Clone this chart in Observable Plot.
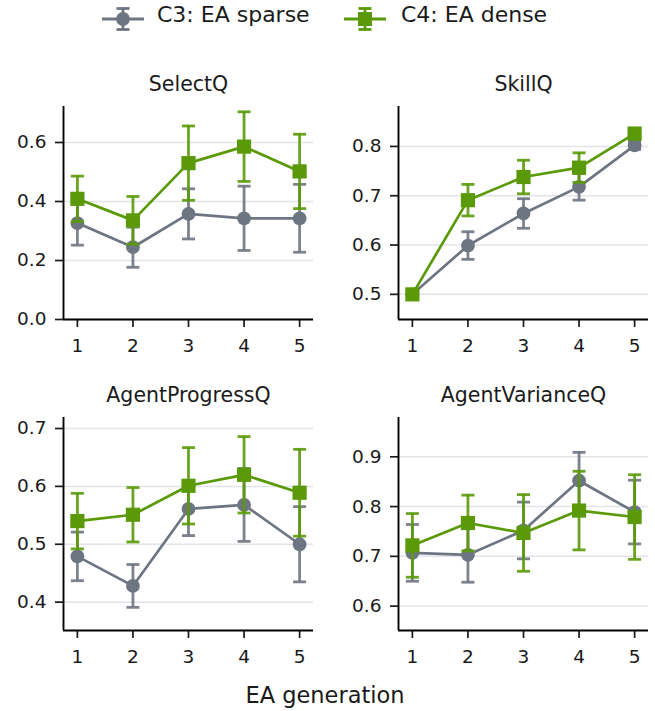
<!DOCTYPE html>
<html>
<head>
<meta charset="utf-8">
<script src="https://cdn.jsdelivr.net/npm/d3@7"></script>
<script src="https://cdn.jsdelivr.net/npm/@observablehq/plot@0.6"></script>
<style>
  html, body { margin: 0; padding: 0; background: #fff; }
  #wrap { position: relative; width: 655px; height: 711px; overflow: hidden; font-family: "DejaVu Sans", sans-serif; color: #1a1a1a; }
  .panel { position: absolute; }
  .legtext { position: absolute; font-size: 22px; top: 2px; white-space: nowrap; }
  .legsym { position: absolute; top: 6px; }
  #xlabel { position: absolute; left: 0; width: 650px; text-align: center; top: 682px; font-size: 22.5px; }
</style>
</head>
<body>
<div id="wrap">
  <svg class="legsym" style="left:100px" width="46" height="26">
    <line x1="2" x2="44" y1="13" y2="13" stroke="#6e7582" stroke-width="2.8"/>
    <line x1="23" x2="23" y1="2.5" y2="23.5" stroke="#6e7582" stroke-width="2.8"/>
    <line x1="16.5" x2="29.5" y1="2.5" y2="2.5" stroke="#6e7582" stroke-width="2.8"/>
    <line x1="16.5" x2="29.5" y1="23.5" y2="23.5" stroke="#6e7582" stroke-width="2.8"/>
    <circle cx="23" cy="13" r="6.9" fill="#6e7582"/>
  </svg>
  <div class="legtext" style="left:157px">C3: EA sparse</div>
  <svg class="legsym" style="left:342px" width="46" height="26">
    <line x1="2" x2="44" y1="13" y2="13" stroke="#5a9a08" stroke-width="2.8"/>
    <line x1="23" x2="23" y1="2.5" y2="23.5" stroke="#5a9a08" stroke-width="2.8"/>
    <line x1="16.5" x2="29.5" y1="2.5" y2="2.5" stroke="#5a9a08" stroke-width="2.8"/>
    <line x1="16.5" x2="29.5" y1="23.5" y2="23.5" stroke="#5a9a08" stroke-width="2.8"/>
    <rect x="16" y="6" width="14" height="14" fill="#5a9a08"/>
  </svg>
  <div class="legtext" style="left:401px">C4: EA dense</div>
  <div id="xlabel">EA generation</div>
</div>
<script>
// ---- data ----
const generations = [1, 2, 3, 4, 5];
const seriesNames = ["C3: EA sparse", "C4: EA dense"];
const panelTitles = ["SelectQ", "SkillQ", "AgentProgressQ", "AgentVarianceQ"];

const selectSparseMean = [0.327, 0.245, 0.358, 0.343, 0.343];
const selectSparseErr  = [0.075, 0.068, 0.085, 0.109, 0.115];
const selectDenseMean  = [0.409, 0.336, 0.530, 0.586, 0.502];
const selectDenseErr   = [0.077, 0.081, 0.126, 0.118, 0.126];

const skillSparseMean = [0.500, 0.599, 0.664, 0.718, 0.802];
const skillSparseErr  = [0.000, 0.028, 0.030, 0.027, 0.008];
const skillDenseMean  = [0.500, 0.691, 0.738, 0.757, 0.826];
const skillDenseErr   = [0.000, 0.032, 0.034, 0.030, 0.011];

const progressSparseMean = [0.479, 0.428, 0.561, 0.568, 0.500];
const progressSparseErr  = [0.042, 0.037, 0.046, 0.063, 0.065];
const progressDenseMean  = [0.540, 0.551, 0.601, 0.620, 0.589];
const progressDenseErr   = [0.048, 0.047, 0.066, 0.066, 0.075];

const varianceSparseMean = [0.707, 0.703, 0.752, 0.852, 0.789];
const varianceSparseErr  = [0.057, 0.055, 0.057, 0.057, 0.064];
const varianceDenseMean  = [0.722, 0.767, 0.747, 0.792, 0.779];
const varianceDenseErr   = [0.064, 0.056, 0.077, 0.079, 0.085];

const selectTicks   = [0, 0.2, 0.4, 0.6];
const skillTicks    = [0.5, 0.6, 0.7, 0.8];
const progressTicks = [0.4, 0.5, 0.6, 0.7];
const varianceTicks = [0.6, 0.7, 0.8, 0.9];

const selectDomain   = [0, 0.722];
const skillDomain    = [0.449, 0.881];
const progressDomain = [0.351, 0.719];
const varianceDomain = [0.551, 0.979];

// ---- styling ----
const colors = {"C3: EA sparse": "#6e7582", "C4: EA dense": "#5a9a08"};
const xDomain = [0.75, 5.25];
const capSymbol = { draw(ctx) { ctx.moveTo(-6.5, 0); ctx.lineTo(6.5, 0); } };

function rows(name, means, errs) {
  return generations.map((g, i) => ({g, m: means[i], lo: means[i] - errs[i], hi: means[i] + errs[i], name}));
}

function seriesMarks(data, symbol, r) {
  const c = colors[data[0].name];
  const eb = {stroke: c, strokeWidth: 2.8, strokeOpacity: 0.9};
  return [
    Plot.ruleX(data, {x: "g", y1: "lo", y2: "hi", ...eb}),
    Plot.dot(data, {x: "g", y: "lo", symbol: capSymbol, fill: "none", r: 5, ...eb}),
    Plot.dot(data, {x: "g", y: "hi", symbol: capSymbol, fill: "none", r: 5, ...eb}),
    Plot.line(data, {x: "g", y: "m", stroke: c, strokeWidth: 2.7}),
    Plot.dot(data, {x: "g", y: "m", symbol, r, fill: c, stroke: "none"})
  ];
}

function panel(title, sm, se, dm, de, yDomain, yTicks, width, marginRight) {
  const sparse = rows(seriesNames[0], sm, se);
  const dense = rows(seriesNames[1], dm, de);
  return Plot.plot({
    width, height: 300,
    marginLeft: 63, marginRight, marginTop: 46, marginBottom: 41,
    x: {domain: xDomain},
    y: {domain: yDomain},
    style: {fontFamily: "DejaVu Sans, sans-serif", fontSize: "18.5px", color: "#1a1a1a", background: "transparent", overflow: "visible"},
    marks: [
      Plot.gridY(yTicks, {stroke: "#e3e3ea", strokeOpacity: 1, strokeWidth: 1.5}),
      Plot.axisY({ticks: yTicks, tickFormat: d3.format(".1f"), tickSize: 8, tickPadding: 9, strokeWidth: 1.7, label: null}),
      Plot.axisX({ticks: generations, tickFormat: d => String(d), tickSize: 8, tickPadding: 11, strokeWidth: 1.7, label: null}),
      Plot.ruleX([xDomain[0]], {stroke: "#000", strokeWidth: 1.9}),
      Plot.ruleY([yDomain[0]], {stroke: "#000", strokeWidth: 1.9}),
      ...seriesMarks(sparse, "circle", 6.9),
      ...seriesMarks(dense, "square", 8),
      Plot.text([title], {frameAnchor: "top", lineAnchor: "bottom", dy: -16, fontSize: 20.5, fill: "#1a1a1a"})
    ]
  });
}

const wrap = document.getElementById("wrap");
function place(el, left, top) {
  el.classList.add("panel");
  el.style.left = left + "px";
  el.style.top = top + "px";
  wrap.appendChild(el);
}

place(panel(panelTitles[0], selectSparseMean, selectSparseErr, selectDenseMean, selectDenseErr, selectDomain, selectTicks, 325, 12), 0, 60);
place(panel(panelTitles[1], skillSparseMean, skillSparseErr, skillDenseMean, skillDenseErr, skillDomain, skillTicks, 320, 7), 335, 60);
place(panel(panelTitles[2], progressSparseMean, progressSparseErr, progressDenseMean, progressDenseErr, progressDomain, progressTicks, 325, 12), 0, 371);
place(panel(panelTitles[3], varianceSparseMean, varianceSparseErr, varianceDenseMean, varianceDenseErr, varianceDomain, varianceTicks, 320, 7), 335, 371);
</script>
</body>
</html>
